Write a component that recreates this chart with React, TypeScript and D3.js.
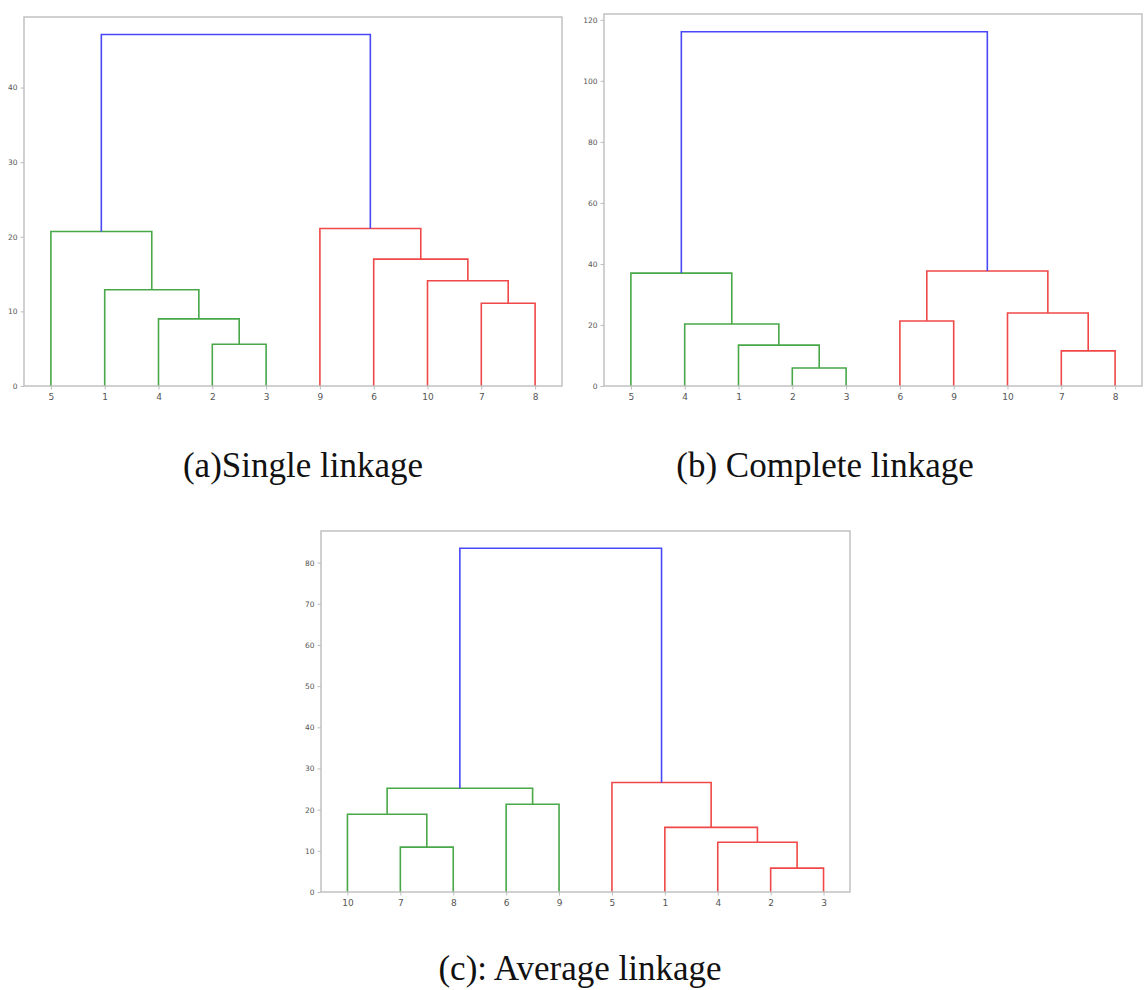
import React, { useEffect, useRef } from 'react';
import * as d3 from 'd3';

// Leaf order along the x axis for each linkage method.
const singleLeaves = ['5', '1', '4', '2', '3', '9', '6', '10', '7', '8'];
const completeLeaves = ['5', '4', '1', '2', '3', '6', '9', '10', '7', '8'];
const averageLeaves = ['10', '7', '8', '6', '9', '5', '1', '4', '2', '3'];

// Merges: [left, right, height, colour key]. Leaves are labels, clusters are "c<index>".
type Merge = [string, string, number, string];

const singleMerges: Merge[] = [
  ['2', '3', 5.6, 'g'],
  ['4', 'c0', 9.0, 'g'],
  ['1', 'c1', 12.9, 'g'],
  ['5', 'c2', 20.7, 'g'],
  ['7', '8', 11.1, 'r'],
  ['10', 'c4', 14.1, 'r'],
  ['6', 'c5', 17.0, 'r'],
  ['9', 'c6', 21.1, 'r'],
  ['c3', 'c7', 47.1, 'b'],
];

const completeMerges: Merge[] = [
  ['2', '3', 5.9, 'g'],
  ['1', 'c0', 13.4, 'g'],
  ['4', 'c1', 20.3, 'g'],
  ['5', 'c2', 37.0, 'g'],
  ['7', '8', 11.5, 'r'],
  ['10', 'c4', 23.9, 'r'],
  ['6', '9', 21.3, 'r'],
  ['c6', 'c5', 37.7, 'r'],
  ['c3', 'c7', 116.1, 'b'],
];

const averageMerges: Merge[] = [
  ['7', '8', 10.9, 'g'],
  ['10', 'c0', 18.9, 'g'],
  ['6', '9', 21.3, 'g'],
  ['c1', 'c2', 25.2, 'g'],
  ['2', '3', 5.8, 'r'],
  ['4', 'c4', 12.1, 'r'],
  ['1', 'c5', 15.7, 'r'],
  ['5', 'c6', 26.6, 'r'],
  ['c3', 'c7', 83.5, 'b'],
];

const singleTicks = [0, 10, 20, 30, 40];
const completeTicks = [0, 20, 40, 60, 80, 100, 120];
const averageTicks = [0, 10, 20, 30, 40, 50, 60, 70, 80];

const COLORS: Record<string, string> = {
  g: '#48a848',
  r: '#f04848',
  b: '#4848f8',
  frame: '#bdbdbd',
  tick: '#555',
};

interface Box {
  left: number;
  right: number;
  top: number;
  bottom: number;
}

function drawDendrogram(node: SVGGElement, leaves: string[], merges: Merge[], ticks: number[], box: Box) {
  const g = d3.select(node);
  g.selectAll('*').remove();

  // scipy places leaves at 5, 15, ..., and the axis runs 0..10*n
  const x = d3.scaleLinear().domain([0, leaves.length * 10]).range([box.left, box.right]);
  const yMax = (d3.max(merges, (m) => m[2]) || 1) * 1.05;
  const y = d3.scaleLinear().domain([0, yMax]).range([box.bottom, box.top]);

  const pos = new Map<string, { x: number; h: number }>();
  leaves.forEach((label, i) => pos.set(label, { x: i * 10 + 5, h: 0 }));

  const links = merges.map((m, i) => {
    const a = pos.get(m[0])!;
    const b = pos.get(m[1])!;
    pos.set(`c${i}`, { x: (a.x + b.x) / 2, h: m[2] });
    return { a, b, h: m[2], color: COLORS[m[3]] };
  });

  g.append('g')
    .selectAll('path')
    .data(links)
    .join('path')
    .attr('fill', 'none')
    .attr('stroke', (d) => d.color)
    .attr('stroke-width', 1.6)
    .attr('d', (d) =>
      d3.line()([
        [x(d.a.x), y(d.a.h)],
        [x(d.a.x), y(d.h)],
        [x(d.b.x), y(d.h)],
        [x(d.b.x), y(d.b.h)],
      ])
    );

  const xBand = d3.scalePoint<string>().domain(leaves).range([x(5), x(leaves.length * 10 - 5)]);

  g.append('g')
    .attr('transform', `translate(0,${box.bottom})`)
    .call(d3.axisBottom(xBand).tickSize(3.5).tickPadding(4))
    .call((s) => s.select('.domain').remove())
    .call((s) => s.selectAll('line').attr('stroke', COLORS.frame))
    .call((s) => s.selectAll('text').attr('fill', COLORS.tick).attr('font-size', 9).attr('font-family', 'DejaVu Sans'));

  g.append('g')
    .attr('transform', `translate(${box.left},0)`)
    .call(d3.axisLeft(y).tickValues(ticks).tickSize(3.5).tickPadding(3))
    .call((s) => s.select('.domain').remove())
    .call((s) => s.selectAll('line').attr('stroke', COLORS.frame))
    .call((s) => s.selectAll('text').attr('fill', COLORS.tick).attr('font-size', 7.5).attr('font-family', 'DejaVu Sans'));

  g.append('rect')
    .attr('x', box.left)
    .attr('y', box.top)
    .attr('width', box.right - box.left)
    .attr('height', box.bottom - box.top)
    .attr('fill', 'none')
    .attr('stroke', COLORS.frame)
    .attr('stroke-width', 1.4);
}

function Dendrogram({ leaves, merges, ticks, box }: { leaves: string[]; merges: Merge[]; ticks: number[]; box: Box }) {
  const ref = useRef<SVGGElement>(null);
  useEffect(() => {
    if (ref.current) drawDendrogram(ref.current, leaves, merges, ticks, box);
  }, [leaves, merges, ticks, box]);
  return <g ref={ref} />;
}

const boxA = { left: 24, right: 562, top: 17, bottom: 386 };
const boxB = { left: 604, right: 1142, top: 14, bottom: 386 };
const boxC = { left: 321, right: 850, top: 531, bottom: 892 };

export default function App() {
  const caption = { fontFamily: '"Liberation Serif", "Times New Roman", serif', fontSize: 35, fill: '#111' };
  return (
    <svg width={1148} height={990} style={{ position: 'absolute', left: 0, top: 0, background: '#fff' }}>
      <rect width={1148} height={990} fill="#fff" />
      <Dendrogram leaves={singleLeaves} merges={singleMerges} ticks={singleTicks} box={boxA} />
      <Dendrogram leaves={completeLeaves} merges={completeMerges} ticks={completeTicks} box={boxB} />
      <Dendrogram leaves={averageLeaves} merges={averageMerges} ticks={averageTicks} box={boxC} />
      <text x={303} y={477} textAnchor="middle" style={caption}>(a)Single linkage</text>
      <text x={825} y={477} textAnchor="middle" style={caption}>(b) Complete linkage</text>
      <text x={580} y={980} textAnchor="middle" style={caption}>(c): Average linkage</text>
    </svg>
  );
}
